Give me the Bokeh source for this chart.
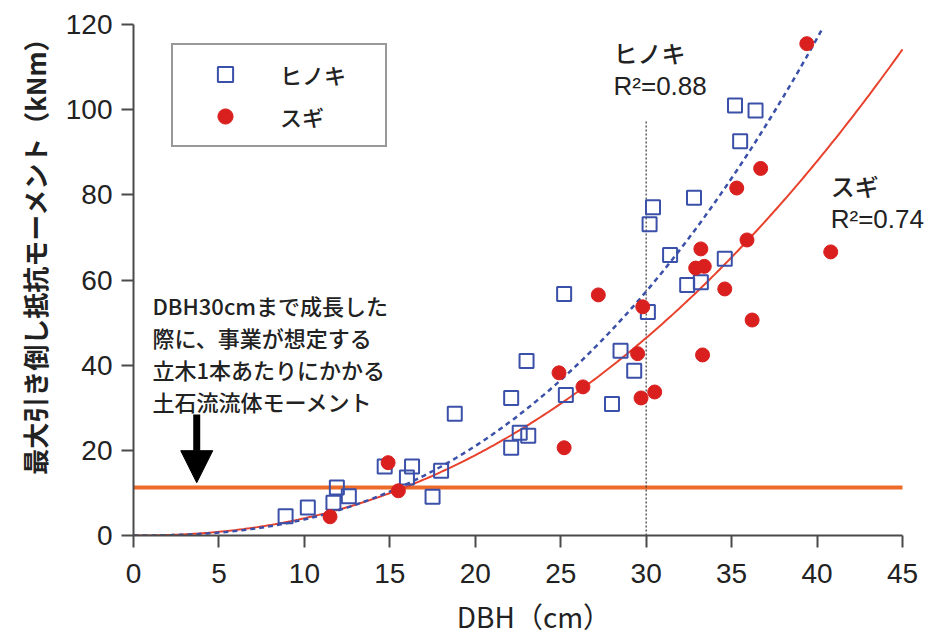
import numpy as np
from bokeh.plotting import figure
from bokeh.models import (Range1d, FixedTicker, Legend, LegendItem, Label,
                          Arrow, NormalHead, Title)
from bokeh.embed import file_html
from bokeh.resources import INLINE

# ---- data ----
HINOKI_DBH = [8.9, 10.2, 11.9, 12.6, 11.7, 14.7, 16.3, 16.0, 17.5, 18.0, 18.8,
              22.1, 22.1, 22.6, 23.1, 23.0, 25.2, 25.3, 28.0, 28.5, 29.3, 30.1,
              30.2, 30.4, 31.4, 32.4, 33.2, 32.8, 34.6, 35.2, 35.5, 36.4]
HINOKI_M = [4.5, 6.6, 11.3, 9.2, 7.7, 16.2, 16.2, 13.6, 9.1, 15.2, 28.6,
            32.3, 20.6, 24.1, 23.4, 41.0, 56.7, 33.0, 30.9, 43.4, 38.7, 52.5,
            73.1, 77.1, 65.9, 58.8, 59.5, 79.3, 65.0, 101.0, 92.6, 99.8]
SUGI_DBH = [11.5, 14.9, 15.5, 24.9, 25.2, 26.3, 27.2, 29.5, 29.8, 29.7, 30.5,
            32.9, 33.4, 33.2, 33.3, 34.6, 35.3, 35.9, 36.2, 36.7, 39.4, 40.8]
SUGI_M = [4.4, 17.1, 10.5, 38.2, 20.6, 34.9, 56.5, 42.7, 53.7, 32.3, 33.7,
          62.8, 63.2, 67.3, 42.4, 57.9, 81.6, 69.4, 50.6, 86.2, 115.5, 66.6]

# power-law fits  M = a * DBH^b  (coefficients)
HINOKI_FIT = (0.0127, 2.474)
SUGI_FIT = (0.0244, 2.22)
HINOKI_FIT_MAX = 40.3
SUGI_FIT_MAX = 45.0

DEBRIS_MOMENT = 11.3      # 土石流流体モーメント
REF_DBH = 30              # DBH 30 cm
REF_TOP = 97.5

X_MIN, X_MAX = 0, 45
Y_MIN, Y_MAX = 0, 120
X_TICKS = [0, 5, 10, 15, 20, 25, 30, 35, 40, 45]
Y_TICKS = [0, 20, 40, 60, 80, 100, 120]

BLUE = "#3b50a8"
RED = "#d9201f"
SUGI_LINE = "#e8412c"
ORANGE = "#ec6a2a"
AXIS = "#4a4a4a"
TXT = "#222222"
JP = "Noto Sans CJK JP"
JPM = "Noto Sans CJK JP Medium"
LAT = "Liberation Sans"

# frame is a little wider than the axis (axis stops at 45, text may run past it)
AXIS_PX = 769
FRAME_PX = 801
p = figure(width=936, height=638,
           x_range=Range1d(X_MIN, X_MAX * FRAME_PX / AXIS_PX),
           y_range=Range1d(Y_MIN, Y_MAX),
           min_border_left=133, min_border_right=2, min_border_top=24,
           min_border_bottom=102, output_backend="svg", toolbar_location=None)
p.xgrid.visible = False
p.ygrid.visible = False
p.outline_line_color = None
p.background_fill_color = "white"

for ax in (p.xaxis[0], p.yaxis[0]):
    ax.axis_line_color = AXIS
    ax.axis_line_width = 2
    ax.major_tick_line_color = AXIS
    ax.major_tick_line_width = 2
    ax.major_tick_out = 12
    ax.major_tick_in = 0
    ax.minor_tick_out = 0
    ax.minor_tick_in = 0
    ax.major_label_text_font = LAT
    ax.major_label_text_font_size = "28px"
    ax.major_label_text_color = TXT

p.xaxis.bounds = (X_MIN, X_MAX)
p.xaxis.ticker = FixedTicker(ticks=X_TICKS)
p.yaxis.ticker = FixedTicker(ticks=Y_TICKS)
p.xaxis.major_label_standoff = 16
p.yaxis.major_label_standoff = 9
p.xaxis.axis_label = "DBH（cm）"
p.xaxis.axis_label_text_font = JP
p.xaxis.axis_label_text_font_size = "28px"
p.xaxis.axis_label_text_font_style = "normal"
p.xaxis.axis_label_text_color = TXT
p.xaxis.axis_label_standoff = 10

# y title as a left-side title, aligned toward the top like the original
p.add_layout(Title(text="最大引き倒し抵抗モーメント（kNm）", align="right",
                   text_font=JP, text_font_size="26px", text_font_style="bold",
                   text_color=TXT, standoff=0, padding=10, offset=-10), "left")

# horizontal debris-flow moment line (from axis to axis end)
p.segment(x0=[X_MIN], y0=[DEBRIS_MOMENT], x1=[X_MAX], y1=[DEBRIS_MOMENT],
          line_color=ORANGE, line_width=4)

# vertical dotted line at DBH 30
p.line([REF_DBH, REF_DBH], [0, REF_TOP], line_color="#333333", line_width=1.2,
       line_dash="2 2")

# fitted curves
hx = np.linspace(0, HINOKI_FIT_MAX, 300)
sx = np.linspace(0, SUGI_FIT_MAX, 300)
p.line(sx, SUGI_FIT[0] * sx ** SUGI_FIT[1], line_color=SUGI_LINE, line_width=2)
p.line(hx, HINOKI_FIT[0] * hx ** HINOKI_FIT[1], line_color=BLUE, line_width=2.5,
       line_dash="5 4")

# points
sq = p.scatter(HINOKI_DBH, HINOKI_M, marker="square", size=14, fill_color=None,
               line_color=BLUE, line_width=2)
ci = p.scatter(SUGI_DBH, SUGI_M, marker="circle", size=14, fill_color=RED,
               line_color=RED, line_width=1)

legend = Legend(items=[LegendItem(label="ヒノキ", renderers=[sq]),
                       LegendItem(label="スギ", renderers=[ci])],
                location=(38, 388), margin=0, padding=10, spacing=4,
                glyph_width=84, glyph_height=38, label_standoff=13,
                label_width=95, label_height=38,
                label_text_font=JPM, label_text_font_size="22px",
                label_text_color=TXT, border_line_color="#333333",
                border_line_width=2, background_fill_color="white",
                background_fill_alpha=1.0)
p.add_layout(legend)

# annotations
p.add_layout(Label(x=28.09, y=113.4, text="ヒノキ", text_font=JPM,
                   text_font_size="24px", text_baseline="middle", text_color=TXT))
p.add_layout(Label(x=28.09, y=105.5, text="R²=0.88", text_font=LAT,
                   text_font_size="26px", text_baseline="middle", text_color=TXT))
p.add_layout(Label(x=40.8, y=82.3, text="スギ", text_font=JPM,
                   text_font_size="24px", text_baseline="middle", text_color=TXT))
p.add_layout(Label(x=40.8, y=74.3, text="R²=0.74", text_font=LAT,
                   text_font_size="26px", text_baseline="middle", text_color=TXT))

p.add_layout(Label(x=1.11, y=42.8,
                   text="DBH30cmまで成長した\n際に、事業が想定する\n立木1本あたりにかかる\n土石流流体モーメント",
                   text_font=JPM, text_font_size="22px", text_line_height=1.0,
                   text_baseline="middle", text_color=TXT))

p.add_layout(Arrow(end=NormalHead(size=32, fill_color="black", line_color="black"),
                   x_start=3.7, y_start=28.4, x_end=3.7, y_end=12.4,
                   line_width=7, line_color="black"))

open("out.html", "w").write(file_html(p, INLINE))
